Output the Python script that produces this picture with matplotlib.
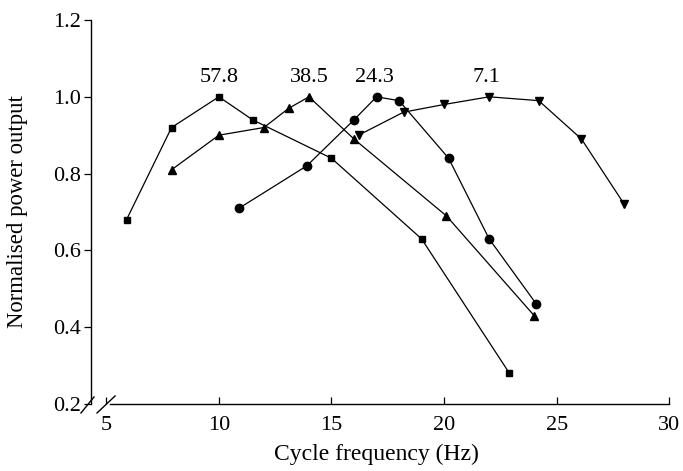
import numpy as np
from matplotlib import pyplot as plt

# Cycle frequency (Hz) and normalised power for each curve
sq_x = [5.9, 7.9, 10.0, 11.5, 15.0, 19.0, 22.9]
sq_y = [0.68, 0.92, 1.00, 0.94, 0.84, 0.63, 0.28]

tri_x = [7.9, 10.0, 12.0, 13.1, 14.0, 16.0, 20.1, 24.0]
tri_y = [0.81, 0.90, 0.92, 0.97, 1.00, 0.89, 0.69, 0.43]

circ_x = [10.9, 13.9, 16.0, 17.0, 18.0, 20.2, 22.0, 24.1]
circ_y = [0.71, 0.82, 0.94, 1.00, 0.99, 0.84, 0.63, 0.46]

inv_x = [16.2, 18.2, 20.0, 22.0, 24.2, 26.1, 28.0]
inv_y = [0.90, 0.96, 0.98, 1.00, 0.99, 0.89, 0.72]

# labels above each peak
peak_labels = ['57.8', '38.5', '24.3', '7.1']
peak_x = [10.0, 14.0, 16.9, 21.9]
peak_y = 1.05

x_ticks = [5, 10, 15, 20, 25, 30]
y_ticks = [0.2, 0.4, 0.6, 0.8, 1.0, 1.2]

if __name__ == '__main__':
    plt.rcParams['font.family'] = ['Liberation Serif', 'DejaVu Serif']
    plt.rcParams['font.size'] = 16

    fig = plt.figure(figsize=(6.83, 4.71), dpi=100)
    ax = fig.add_axes([0.1328, 0.1423, 0.8472, 0.8152])

    lw = 0.9
    ax.plot(sq_x, sq_y, '-', color='black', lw=lw, marker='s', ms=5, clip_on=False)
    ax.plot(tri_x, tri_y, '-', color='black', lw=lw, marker='^', ms=6, clip_on=False)
    ax.plot(circ_x, circ_y, '-', color='black', lw=lw, marker='o', ms=6, clip_on=False)
    ax.plot(inv_x, inv_y, '-', color='black', lw=lw, marker='v', ms=6, clip_on=False)

    for lab, px in zip(peak_labels, peak_x):
        ax.text(px, peak_y, lab, ha='center', va='center', fontsize=16)

    ax.set_xlim(4.31, 30)
    ax.set_ylim(0.2, 1.2)
    ax.set_xticks(x_ticks)
    ax.set_yticks(y_ticks)
    ax.set_yticklabels(['%.1f' % v for v in y_ticks])

    # axes styling
    ax.spines['top'].set_visible(False)
    ax.spines['right'].set_visible(False)
    ax.spines['left'].set_linewidth(1.0)
    ax.spines['bottom'].set_linewidth(1.0)
    ax.spines['bottom'].set_bounds(5.16, 30)
    ax.tick_params(axis='y', direction='out', length=5, width=0.9, pad=2)
    ax.tick_params(axis='x', direction='in', length=5, width=0.9, pad=9)

    # axis break marks at the origin
    ax.plot([-0.0168, 0.0057], [-0.0234, 0.0182], color='black', lw=1.0,
            transform=ax.transAxes, clip_on=False)
    ax.plot([0.0109, 0.0421], [-0.0234, 0.0208], color='black', lw=1.0,
            transform=ax.transAxes, clip_on=False)

    ax.set_xlabel('Cycle frequency (Hz)', fontsize=17)
    ax.set_ylabel('Normalised power output', fontsize=16.4)
    ax.xaxis.set_label_coords(0.494, -0.105)
    ax.yaxis.set_label_coords(-0.108, 0.5)

    plt.savefig('out.png', dpi=100)
